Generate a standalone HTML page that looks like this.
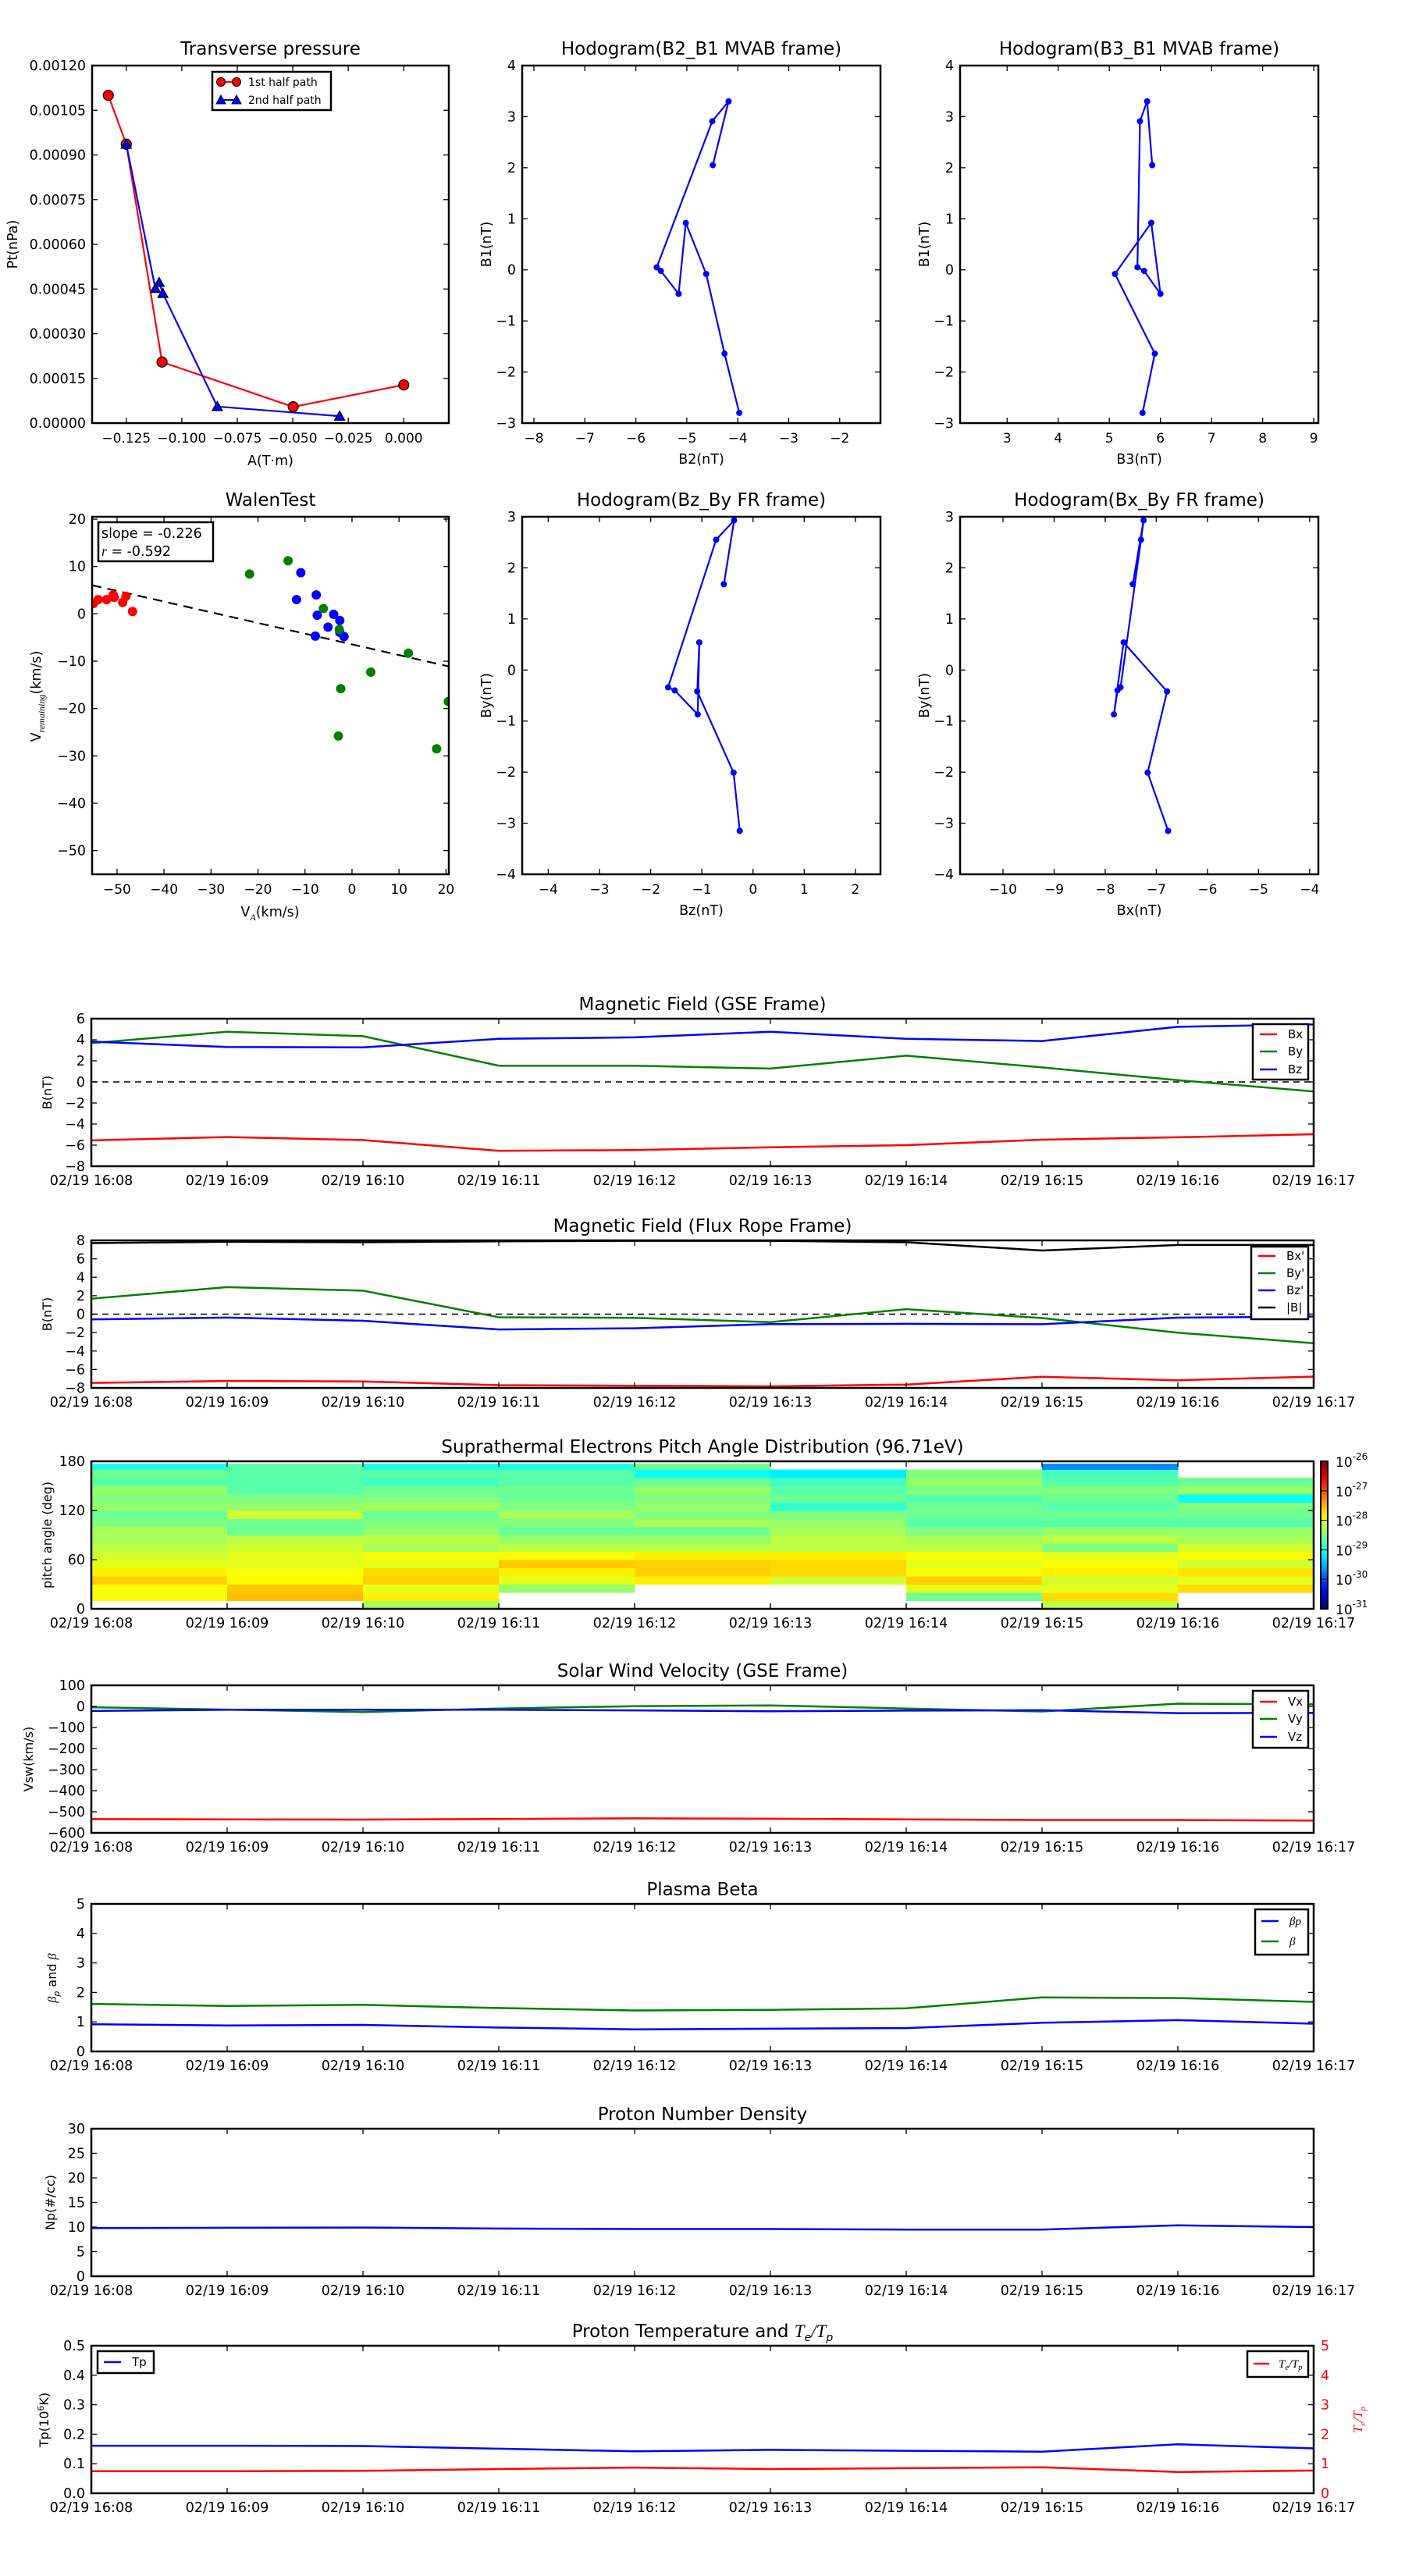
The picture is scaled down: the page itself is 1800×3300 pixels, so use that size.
<!DOCTYPE html>
<html><head><meta charset="utf-8"><title>Flux rope analysis</title>
<style>
html,body{margin:0;padding:0;background:#fff}
svg{display:block;font-family:"DejaVu Sans","Liberation Sans",sans-serif}
</style></head>
<body>
<svg id="fig" xmlns="http://www.w3.org/2000/svg" width="1800" height="3300" viewBox="0 0 1800 3300"></svg>
<script>
// ---------- DATA ----------
const tpRedA = [-0.1331, -0.125, -0.1089, -0.0498, 0.0];
const tpRedP = [0.00110, 0.000936, 0.000205, 0.0000546, 0.000128];
const tpBlueA = [-0.125, -0.1119, -0.1102, -0.1085, -0.0840, -0.0289];
const tpBlueP = [0.000936, 0.000452, 0.000472, 0.000435, 0.0000556, 0.0000233];

const walRedX = [-55, -54, -52.2, -50.8, -48.8, -48.1, -46.7, -50.6];
const walRedY = [2.2, 3.0, 3.0, 4.0, 2.4, 3.7, 0.5, 3.5];
const walBlueX = [-10.9, -11.8, -7.6, -7.4, -3.9, -2.6, -5.1, -7.8, -2.6, -1.7];
const walBlueY = [8.7, 3.0, 4.0, -0.3, -0.1, -1.4, -2.8, -4.7, -3.9, -4.8];
const walGreenX = [-21.8, -13.6, -6.1, -2.7, 12.0, 4.0, -2.4, 20.5, -2.9, 18.0];
const walGreenY = [8.4, 11.2, 1.1, -3.3, -8.3, -12.3, -15.8, -18.5, -25.8, -28.5];
const walSlope = -0.226;
const walIntercept = -6.45;

const mvB1 = [2.05, 3.30, 2.91, 0.05, -0.02, -0.47, 0.92, -0.08, -1.64, -2.80];
const mvB2 = [-4.49, -4.18, -4.50, -5.59, -5.51, -5.16, -5.02, -4.62, -4.26, -3.97];
const mvB3 = [5.84, 5.74, 5.60, 5.55, 5.68, 6.00, 5.82, 5.11, 5.89, 5.65];

const frBx = [-7.46, -7.25, -7.30, -7.70, -7.76, -7.83, -7.64, -6.79, -7.17, -6.77];
const frBy = [1.68, 2.93, 2.55, -0.34, -0.40, -0.87, 0.54, -0.42, -2.01, -3.15];
const frBz = [-0.57, -0.37, -0.72, -1.66, -1.53, -1.08, -1.05, -1.09, -0.38, -0.26];
const frBt = [7.7, 7.85, 7.8, 7.9, 7.95, 7.95, 7.8, 6.9, 7.5, 7.5];

const timeLabels = ['02/19 16:08','02/19 16:09','02/19 16:10','02/19 16:11','02/19 16:12','02/19 16:13','02/19 16:14','02/19 16:15','02/19 16:16','02/19 16:17'];

const gseBx = [-5.55, -5.23, -5.52, -6.53, -6.47, -6.2, -6.0, -5.48, -5.25, -4.96];
const gseBy = [3.68, 4.76, 4.34, 1.54, 1.54, 1.27, 2.49, 1.38, 0.16, -0.9];
const gseBz = [3.83, 3.31, 3.28, 4.09, 4.23, 4.76, 4.09, 3.88, 5.23, 5.45];

const swVx = [-535, -536, -537, -534, -531, -533, -536, -539, -539, -542];
const swVy = [-4, -15, -27, -10, 1, 5, -10, -24, 13, 10];
const swVz = [-22, -16, -16, -16, -19, -23, -20, -18, -32, -31];

const betaP = [0.92, 0.88, 0.90, 0.81, 0.75, 0.77, 0.79, 0.97, 1.06, 0.94];
const betaT = [1.61, 1.54, 1.58, 1.47, 1.39, 1.41, 1.46, 1.83, 1.81, 1.68];

const densNp = [9.8, 9.85, 9.9, 9.7, 9.6, 9.6, 9.5, 9.5, 10.35, 10.0];

const tempTp = [0.161, 0.161, 0.160, 0.151, 0.142, 0.147, 0.144, 0.141, 0.166, 0.152];
const tempRatio = [0.745, 0.75, 0.76, 0.82, 0.87, 0.82, 0.85, 0.88, 0.72, 0.77];

// PAD: log10 flux per column (9 time columns), bins 0..17 (10 deg each, bottom->top); null = no data
const padCol0 = [null,-27.9,-27.9,-27.65,-27.8,-28.0,-28.1,-28.2,-28.3,-28.3,-28.5,-28.6,-28.4,-28.5,-28.4,-28.7,-28.6,-29.0];
const padCol1 = [null,-27.55,-27.6,-27.85,-27.9,-28.0,-28.0,-28.1,-28.2,-28.6,-28.6,-28.1,-28.4,-28.5,-28.7,-28.7,-28.7,-28.7];
const padCol2 = [-28.3,-27.8,-28.0,-27.65,-27.7,-28.0,-27.9,-28.3,-28.2,-28.4,-28.5,-28.6,-28.3,-28.5,-28.6,-28.8,-28.7,-29.0];
const padCol3 = [null,null,-28.4,-28.0,-27.8,-27.6,-27.9,-28.2,-28.4,-28.6,-28.5,-28.3,-28.5,-28.6,-28.6,-28.7,-28.7,-29.0];
const padCol4 = [null,null,null,-27.8,-27.65,-27.65,-27.8,-28.2,-28.4,-28.6,-28.3,-28.5,-28.4,-28.5,-28.4,-28.6,-29.1,-28.6];
const padCol5 = [null,null,null,-28.1,-27.7,-27.7,-27.8,-28.2,-28.2,-28.3,-28.4,-28.5,-28.9,-28.6,-28.7,-28.8,-29.2,null];
const padCol6 = [null,-28.6,-28.0,-27.65,-27.9,-28.0,-27.9,-28.2,-28.3,-28.5,-28.7,-28.6,-28.6,-28.7,-28.5,-28.4,-28.5,null];
const padCol7 = [-28.2,-27.7,-28.0,-28.1,-27.8,-27.9,-28.0,-28.5,-28.2,-28.4,-28.7,-28.6,-28.7,-28.6,-28.5,-28.7,-28.8,-29.7];
const padCol8 = [null,null,-27.7,-28.0,-27.75,-28.1,-27.9,-28.1,-28.3,-28.4,-28.7,-28.6,-28.5,-29.1,-28.4,-28.6,null,null];
const padCols = [padCol0,padCol1,padCol2,padCol3,padCol4,padCol5,padCol6,padCol7,padCol8];
const padBinEdges = [0,10,20,30,40,50,60,70,80,90,100,110,120,130,140,150,160,170,177];

// ---------- HELPERS ----------
const NS = 'http://www.w3.org/2000/svg';
const fig = document.getElementById('fig');
let clipId = 0;
function el(tag, attrs, parent) {
  const e = document.createElementNS(NS, tag);
  for (const k in attrs) e.setAttribute(k, attrs[k]);
  (parent || fig).appendChild(e);
  return e;
}
function txt(s, x, y, size, anchor, parent, extra) {
  const a = Object.assign({x: x, y: y, 'font-size': size, 'text-anchor': anchor || 'middle', fill: '#000'}, extra || {});
  const t = el('text', a, parent);
  t.textContent = s;
  return t;
}
function fmtMinus(v, d) {
  const s = (d === undefined) ? String(v) : v.toFixed(d);
  return s.replace('-', '\u2212');
}
function makeAxes(name, x0, y0, w, h, xmin, xmax, ymin, ymax) {
  const g = el('g', {});
  
  
  const id = 'clip' + (clipId++);
  const cp = el('clipPath', {id: id}, g);
  el('rect', {x: x0, y: y0, width: w, height: h}, cp);
  const plot = el('g', {'clip-path': 'url(#' + id + ')'}, g);
  const ax = {g: g, plot: plot, x0: x0, y0: y0, w: w, h: h,
    sx: v => x0 + (v - xmin) / (xmax - xmin) * w,
    sy: v => y0 + h - (v - ymin) / (ymax - ymin) * h};
  return ax;
}
function frame(ax) {
  const r = el('rect', {x: ax.x0, y: ax.y0, width: ax.w, height: ax.h, fill: 'none', stroke: '#000', 'stroke-width': 2.5}, ax.g);
  
  
}
function xTicks(ax, vals, labels, size, off) {
  vals.forEach((v, i) => {
    const x = ax.sx(v);
    el('line', {x1: x, y1: ax.y0 + ax.h, x2: x, y2: ax.y0 + ax.h - 7, stroke: '#000', 'stroke-width': 1.3}, ax.g);
    el('line', {x1: x, y1: ax.y0, x2: x, y2: ax.y0 + 7, stroke: '#000', 'stroke-width': 1.3}, ax.g);
    const t = txt(labels[i], x, ax.y0 + ax.h + (off || 24), size || 17.5, 'middle', ax.g);
    
    
  });
}
function yTicks(ax, vals, labels, size, bothSides) {
  vals.forEach((v, i) => {
    const y = ax.sy(v);
    el('line', {x1: ax.x0, y1: y, x2: ax.x0 + 7, y2: y, stroke: '#000', 'stroke-width': 1.3}, ax.g);
    if (bothSides !== false) el('line', {x1: ax.x0 + ax.w, y1: y, x2: ax.x0 + ax.w - 7, y2: y, stroke: '#000', 'stroke-width': 1.3}, ax.g);
    const t = txt(labels[i], ax.x0 - 8, y + 6, size || 17.5, 'end', ax.g);
    
    
  });
}
function line(ax, xs, ys, color, name, width, dash) {
  const pts = xs.map((x, i) => ax.sx(x).toFixed(1) + ',' + ax.sy(ys[i]).toFixed(1)).join(' ');
  const a = {points: pts, fill: 'none', stroke: color, 'stroke-width': width || 2.5, 'stroke-linejoin': 'round'};
  if (dash) a['stroke-dasharray'] = dash;
  const p = el('polyline', a, ax.plot);
  
  
  return p;
}
function dots(ax, xs, ys, color, r, name, stroke) {
  xs.forEach((x, i) => {
    const c = el('circle', {cx: ax.sx(x), cy: ax.sy(ys[i]), r: r, fill: color, stroke: stroke || 'none', 'stroke-width': 1.2}, ax.plot);
    
    
  });
}
function tris(ax, xs, ys, color, s, name) {
  xs.forEach((x, i) => {
    const cx = ax.sx(x), cy = ax.sy(ys[i]);
    const p = el('polygon', {points: [cx, cy - s, cx - s, cy + s * 0.8, cx + s, cy + s * 0.8].join(','), fill: color, stroke: '#000', 'stroke-width': 1.2}, ax.plot);
    
    
  });
}
function title(ax, s, dy) {
  const t = txt(s, ax.x0 + ax.w / 2, ax.y0 - (dy || 11), 23, 'middle', ax.g);
  
  
  return t;
}
function ylabel(ax, s, x, size) {
  const cy = ax.y0 + ax.h / 2;
  const t = txt(s, x, cy, size || 17.5, 'middle', ax.g, {transform: 'rotate(-90 ' + x + ' ' + cy + ')'});
  
  
  return t;
}
function xlabel(ax, s, y) {
  const t = txt(s, ax.x0 + ax.w / 2, y, 17.5, 'middle', ax.g);
  
  
  return t;
}
function range(a, b, s) { const r = []; for (let v = a; v <= b + 1e-9; v += s) r.push(+v.toFixed(6)); return r; }
function legendBox(x, y, w, h, name) {
  const r = el('rect', {x: x, y: y, width: w, height: h, fill: '#fff', stroke: '#000', 'stroke-width': 2.5});
  
  
}
function legendEntry(x, y, color, label, name, italic, size) {
  const g = el('g', {});
  
  
  el('line', {x1: x, y1: y, x2: x + 22, y2: y, stroke: color, 'stroke-width': 2.5}, g);
  txt(label, x + 36, y + 5, size || 15, 'start', g, italic ? {'font-style': 'italic', 'font-family': '"Liberation Serif", serif'} : {});
  return g;
}

// ---------- TOP ROW ----------
(function () {
  const ax = makeAxes('transverse-pressure-chart', 118, 84, 457, 458, -0.1404, 0.0203, 0, 0.0012);
  title(ax, 'Transverse pressure', 14);
  const xt = [-0.125, -0.1, -0.075, -0.05, -0.025, 0];
  xTicks(ax, xt, xt.map(v => fmtMinus(v, 3)), 17, 25);
  const yt = range(0, 0.0012, 0.00015);
  yTicks(ax, yt, yt.map(v => v.toFixed(5)));
  line(ax, tpRedA, tpRedP, '#ff0000', 'first-half-path-line', 2.2);
  line(ax, tpBlueA, tpBlueP, '#0000ff', 'second-half-path-line', 2.2);
  dots(ax, tpRedA, tpRedP, '#ff0000', 6.5, 'first-half-point', '#000');
  tris(ax, tpBlueA, tpBlueP, '#0000ff', 6.5, 'second-half-point');
  frame(ax);
  ylabel(ax, 'Pt(nPa)', 22);
  xlabel(ax, 'A(T\u00b7m)', 596);
  legendBox(272, 92, 152, 49, 'pressure-legend');
  const l1 = el('g', {});
  
  
  el('line', {x1: 283, y1: 105, x2: 303, y2: 105, stroke: '#ff0000', 'stroke-width': 2.2}, l1);
  el('circle', {cx: 283, cy: 105, r: 5.5, fill: '#ff0000', stroke: '#000'}, l1);
  el('circle', {cx: 303, cy: 105, r: 5.5, fill: '#ff0000', stroke: '#000'}, l1);
  txt('1st half path', 318, 110, 14, 'start', l1);
  const l2 = el('g', {});
  
  
  el('line', {x1: 283, y1: 128, x2: 303, y2: 128, stroke: '#0000ff', 'stroke-width': 2.2}, l2);
  el('polygon', {points: '283,122 277,133 289,133', fill: '#0000ff', stroke: '#000'}, l2);
  el('polygon', {points: '303,122 297,133 309,133', fill: '#0000ff', stroke: '#000'}, l2);
  txt('2nd half path', 318, 133, 14, 'start', l2);
})();

function hodogram(name, x0, y0, xmin, xmax, ymin, ymax, xt, yt, xs, ys, ttl, xl, yl) {
  const ax = makeAxes(name, x0, y0, 459, 458, xmin, xmax, ymin, ymax);
  title(ax, ttl, 14);
  xTicks(ax, xt, xt.map(v => fmtMinus(v)), 17, 25);
  yTicks(ax, yt, yt.map(v => fmtMinus(v)));
  line(ax, xs, ys, '#0000ff', 'hodogram-path', 2.2);
  dots(ax, xs, ys, '#0000ff', 4, 'hodogram-point');
  frame(ax);
  ylabel(ax, yl, x0 - 40);
  xlabel(ax, xl, y0 + 458 + 52);
  return ax;
}
hodogram('hodogram-b2-b1', 669, 84, -8.23, -1.2, -3, 4, range(-8, -2, 1), range(-3, 4, 1), mvB2, mvB1, 'Hodogram(B2_B1 MVAB frame)', 'B2(nT)', 'B1(nT)');
hodogram('hodogram-b3-b1', 1230, 84, 2.08, 9.09, -3, 4, range(3, 9, 1), range(-3, 4, 1), mvB3, mvB1, 'Hodogram(B3_B1 MVAB frame)', 'B3(nT)', 'B1(nT)');
hodogram('hodogram-bz-by', 669, 662, -4.51, 2.49, -4, 3, range(-4, 2, 1), range(-4, 3, 1), frBz, frBy, 'Hodogram(Bz_By FR frame)', 'Bz(nT)', 'By(nT)');
hodogram('hodogram-bx-by', 1230, 662, -10.84, -3.83, -4, 3, range(-10, -4, 1), range(-4, 3, 1), frBx, frBy, 'Hodogram(Bx_By FR frame)', 'Bx(nT)', 'By(nT)');

(function () {
  const ax = makeAxes('walen-test-chart', 118, 662, 457, 458, -55.3, 20.6, -55, 20.5);
  title(ax, 'WalenTest', 14);
  const xt = range(-50, 20, 10);
  xTicks(ax, xt, xt.map(v => fmtMinus(v)), 17, 25);
  const yt = range(-50, 20, 10);
  yTicks(ax, yt, yt.map(v => fmtMinus(v)));
  const fx = [-55.3, 20.6];
  const fy = fx.map(v => walSlope * v + walIntercept);
  line(ax, fx, fy, '#000', 'fit-line', 2.2, '12,8');
  dots(ax, walRedX, walRedY, '#ff0000', 6, 'walen-point-red');
  dots(ax, walBlueX, walBlueY, '#0000ff', 6, 'walen-point-blue');
  dots(ax, walGreenX, walGreenY, '#008000', 6, 'walen-point-green');
  frame(ax);
  legendBox(126, 669, 147, 50, 'fit-stats-box');
  const t1 = txt('slope = -0.226', 130, 689, 17.5, 'start');
  
  
  const t2 = el('text', {x: 130, y: 712, 'font-size': 17.5});
  
  
  t2.innerHTML = '<tspan font-style="italic" font-family="Liberation Serif, serif">r</tspan> = -0.592';
  const cy = 662 + 230;
  const yl = el('text', {x: 52, y: cy, 'font-size': 17.5, 'text-anchor': 'middle', transform: 'rotate(-90 52 ' + cy + ')'});
  
  
  yl.innerHTML = 'V<tspan font-size="12" font-style="italic" font-family="Liberation Serif, serif" dy="5">remaining</tspan><tspan dy="-5">(km/s)</tspan>';
  const xl = el('text', {x: 346, y: 1174, 'font-size': 17.5, 'text-anchor': 'middle'});
  
  
  xl.innerHTML = 'V<tspan font-size="12" font-style="italic" font-family="Liberation Serif, serif" dy="5">A</tspan><tspan dy="-5">(km/s)</tspan>';
})();

// ---------- TIME SERIES ----------
const TX0 = 117, TW = 1566, TH = 189;
const tIdx = timeLabels.map((_, i) => i);
function tsAxes(name, top, ymin, ymax, yt, ylabels, ttl, yl, ylx) {
  const ax = makeAxes(name, TX0, top, TW, TH, 0, 9, ymin, ymax);
  title(ax, ttl, 11);
  xTicks(ax, tIdx, timeLabels, 17.5, 24);
  yTicks(ax, yt, ylabels);
  ylabel(ax, yl, ylx || 66, 16);
  return ax;
}

(function () {
  const yt = range(-8, 6, 2);
  const ax = tsAxes('magnetic-field-gse-chart', 1305, -8, 6, yt, yt.map(v => fmtMinus(v)), 'Magnetic Field (GSE Frame)', 'B(nT)');
  line(ax, [0, 9], [0, 0], '#000', 'zero-line', 1.6, '8,6');
  line(ax, tIdx, gseBx, '#ff0000', 'bx-line');
  line(ax, tIdx, gseBy, '#008000', 'by-line');
  line(ax, tIdx, gseBz, '#0000ff', 'bz-line');
  frame(ax);
  legendBox(1605, 1312, 71, 71, 'gse-legend');
  legendEntry(1614, 1325, '#ff0000', 'Bx', 'legend-entry-bx');
  legendEntry(1614, 1347, '#008000', 'By', 'legend-entry-by');
  legendEntry(1614, 1370, '#0000ff', 'Bz', 'legend-entry-bz');
})();

(function () {
  const yt = range(-8, 8, 2);
  const ax = tsAxes('magnetic-field-fr-chart', 1589, -8, 8, yt, yt.map(v => fmtMinus(v)), 'Magnetic Field (Flux Rope Frame)', 'B(nT)');
  line(ax, [0, 9], [0, 0], '#000', 'zero-line', 1.6, '8,6');
  line(ax, tIdx, frBx, '#ff0000', 'bx-prime-line');
  line(ax, tIdx, frBy, '#008000', 'by-prime-line');
  line(ax, tIdx, frBz, '#0000ff', 'bz-prime-line');
  line(ax, tIdx, frBt, '#000000', 'b-total-line');
  frame(ax);
  legendBox(1603, 1597, 73, 93, 'fr-legend');
  legendEntry(1612, 1609, '#ff0000', "Bx'", 'legend-entry-bx-prime');
  legendEntry(1612, 1631, '#008000', "By'", 'legend-entry-by-prime');
  legendEntry(1612, 1653, '#0000ff', "Bz'", 'legend-entry-bz-prime');
  legendEntry(1612, 1675, '#000000', '|B|', 'legend-entry-b-total');
})();

function jet(t) {
  t = Math.max(0, Math.min(1, t));
  const r = Math.max(0, Math.min(1, Math.min(4 * t - 1.5, -4 * t + 4.5)));
  const g = Math.max(0, Math.min(1, Math.min(4 * t - 0.5, -4 * t + 3.5)));
  const b = Math.max(0, Math.min(1, Math.min(4 * t + 0.5, -4 * t + 2.5)));
  return 'rgb(' + Math.round(r * 255) + ',' + Math.round(g * 255) + ',' + Math.round(b * 255) + ')';
}
(function () {
  const yt = [0, 60, 120, 180];
  const ax = tsAxes('pitch-angle-distribution-chart', 1872, 0, 180, yt, yt.map(String), 'Suprathermal Electrons Pitch Angle Distribution (96.71eV)', 'pitch angle (deg)');
  padCols.forEach((col, ci) => {
    col.forEach((v, bi) => {
      if (v === null) return;
      const x1 = ax.sx(ci), x2 = ax.sx(ci + 1);
      const y1 = ax.sy(padBinEdges[bi + 1]), y2 = ax.sy(padBinEdges[bi]);
      const r = el('rect', {x: x1, y: y1, width: x2 - x1 + 0.5, height: y2 - y1 + 0.5, fill: jet((v + 31) / 5)}, ax.plot);
      
      
    });
  });
  tIdx.forEach(i => {
    const x = ax.sx(i);
    el('line', {x1: x, y1: ax.y0 + ax.h, x2: x, y2: ax.y0 + ax.h - 7, stroke: '#000', 'stroke-width': 1.3}, ax.g);
  });
  frame(ax);
  const cb = el('g', {});
  
  
  const defs = el('defs', {}, cb);
  const lg = el('linearGradient', {id: 'jetgrad', x1: 0, y1: 1, x2: 0, y2: 0}, defs);
  for (let i = 0; i <= 20; i++) el('stop', {offset: i / 20, 'stop-color': jet(i / 20)}, lg);
  el('rect', {x: 1692, y: 1872, width: 9, height: 189, fill: 'url(#jetgrad)', stroke: '#000', 'stroke-width': 2}, cb);
  const cbLabels = ['-31', '-30', '-29', '-28', '-27', '-26'];
  cbLabels.forEach((s, i) => {
    const y = 2061 - i * 189 / 5;
    el('line', {x1: 1692, y1: y, x2: 1701, y2: y, stroke: '#000', 'stroke-width': 1}, cb);
    const t = el('text', {x: 1711, y: y + 7, 'font-size': 17}, cb);
    t.innerHTML = '10<tspan font-size="12" dy="-9">' + s + '</tspan>';
  });
})();

(function () {
  const yt = range(-600, 100, 100);
  const ax = tsAxes('solar-wind-velocity-chart', 2159, -600, 100, yt, yt.map(v => fmtMinus(v)), 'Solar Wind Velocity (GSE Frame)', 'Vsw(km/s)', 42);
  line(ax, tIdx, swVx, '#ff0000', 'vx-line');
  line(ax, tIdx, swVy, '#008000', 'vy-line');
  line(ax, tIdx, swVz, '#0000ff', 'vz-line');
  frame(ax);
  legendBox(1605, 2166, 71, 73, 'velocity-legend');
  legendEntry(1614, 2180, '#ff0000', 'Vx', 'legend-entry-vx');
  legendEntry(1614, 2202, '#008000', 'Vy', 'legend-entry-vy');
  legendEntry(1614, 2225, '#0000ff', 'Vz', 'legend-entry-vz');
})();

(function () {
  const yt = range(0, 5, 1);
  const ax = tsAxes('plasma-beta-chart', 2439, 0, 5, yt, yt.map(String), 'Plasma Beta', '');
  line(ax, tIdx, betaP, '#0000ff', 'beta-p-line');
  line(ax, tIdx, betaT, '#008000', 'beta-line');
  frame(ax);
  const cy = 2439 + 95;
  const yl = el('text', {x: 72, y: cy, 'font-size': 16, 'text-anchor': 'middle', transform: 'rotate(-90 72 ' + cy + ')'});
  
  
  yl.innerHTML = '<tspan font-style="italic" font-family="Liberation Serif, serif">\u03b2</tspan><tspan font-size="11" dy="4" font-style="italic">p</tspan><tspan dy="-4"> and </tspan><tspan font-style="italic" font-family="Liberation Serif, serif">\u03b2</tspan>';
  legendBox(1608, 2446, 68, 58, 'beta-legend');
  legendEntry(1616, 2461, '#0000ff', '\u03b2p', 'legend-entry-beta-p', true);
  legendEntry(1616, 2487, '#008000', '\u03b2', 'legend-entry-beta', true);
})();

(function () {
  const yt = range(0, 30, 5);
  const ax = tsAxes('proton-density-chart', 2727, 0, 30, yt, yt.map(String), 'Proton Number Density', 'Np(#/cc)', 70);
  line(ax, tIdx, densNp, '#0000ff', 'density-line');
  frame(ax);
})();

(function () {
  const yt = range(0, 0.5, 0.1);
  const ax = makeAxes('proton-temperature-chart', TX0, 3005, TW, TH, 0, 9, 0, 0.5);
  const tt = el('text', {x: TX0 + TW / 2, y: 2994, 'font-size': 23, 'text-anchor': 'middle'}, ax.g);
  
  
  tt.innerHTML = 'Proton Temperature and <tspan font-style="italic" font-family="Liberation Serif, serif">T</tspan><tspan font-size="14" dy="5" font-style="italic">e</tspan><tspan dy="-5" font-style="italic" font-family="Liberation Serif, serif">/T</tspan><tspan font-size="14" dy="5" font-style="italic">p</tspan>';
  xTicks(ax, tIdx, timeLabels, 17.5, 24);
  yTicks(ax, yt, yt.map(v => v.toFixed(1)), 17.5, false);
  const ax2sy = v => 3005 + TH - v / 5 * TH;
  const rt = range(0, 5, 1);
  rt.forEach(v => {
    const y = ax2sy(v);
    el('line', {x1: TX0 + TW, y1: y, x2: TX0 + TW - 7, y2: y, stroke: '#000', 'stroke-width': 1.3}, ax.g);
    const t = txt(String(v), TX0 + TW + 9, y + 6, 17.5, 'start', ax.g, {fill: '#ff0000'});
    
    
  });
  line(ax, tIdx, tempTp, '#0000ff', 'tp-line');
  const pts = tIdx.map((x, i) => ax.sx(x).toFixed(1) + ',' + ax2sy(tempRatio[i]).toFixed(1)).join(' ');
  const rl = el('polyline', {points: pts, fill: 'none', stroke: '#ff0000', 'stroke-width': 2.5}, ax.plot);
  
  
  frame(ax);
  const cy = 3005 + 95;
  const yl = el('text', {x: 62, y: cy, 'font-size': 16, 'text-anchor': 'middle', transform: 'rotate(-90 62 ' + cy + ')'});
  
  
  yl.innerHTML = 'Tp(10<tspan font-size="11" dy="-6">6</tspan><tspan dy="6">K)</tspan>';
  const yr = el('text', {x: 1745, y: cy, 'font-size': 17, 'text-anchor': 'middle', fill: '#ff0000', 'font-style': 'italic', 'font-family': 'Liberation Serif, serif', transform: 'rotate(-90 1745 ' + cy + ')'});
  
  
  yr.innerHTML = 'T<tspan font-size="11" dy="4">e</tspan><tspan dy="-4">/T</tspan><tspan font-size="11" dy="4">p</tspan>';
  legendBox(125, 3012, 72, 28, 'tp-legend');
  legendEntry(133, 3026, '#0000ff', 'Tp', 'legend-entry-tp');
  legendBox(1598, 3012, 78, 33, 'ratio-legend');
  const g = el('g', {});
  
  
  el('line', {x1: 1606, y1: 3028, x2: 1626, y2: 3028, stroke: '#ff0000', 'stroke-width': 2.5}, g);
  const lt = el('text', {x: 1638, y: 3033, 'font-size': 15, 'font-style': 'italic', 'font-family': 'Liberation Serif, serif'}, g);
  lt.innerHTML = 'T<tspan font-size="10" dy="3">e</tspan><tspan dy="-3">/T</tspan><tspan font-size="10" dy="3">p</tspan>';
})();
</script>
</body></html>
